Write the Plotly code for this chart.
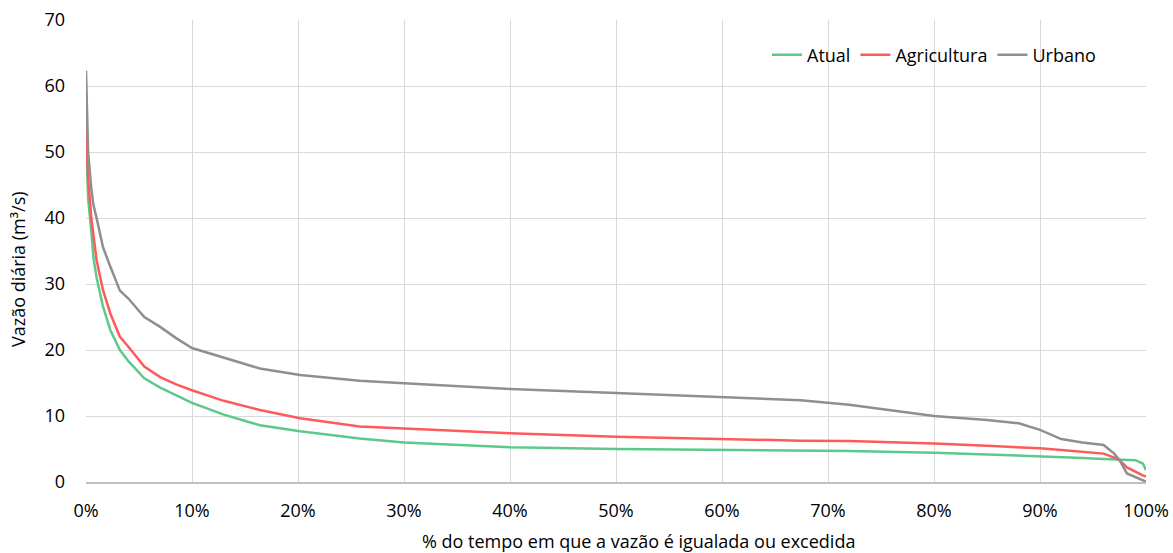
import plotly.graph_objects as go

x_pct = [0, 0.2, 0.5, 0.7, 1.0, 1.6, 2.3, 3.2, 4.0, 5.5, 7, 8.5, 10, 13, 16.4, 20.2, 25.8, 30, 40, 50, 60,
         67.4, 72, 80, 85, 88, 90, 92, 94, 96, 97, 97.5, 98.2, 99, 99.7, 100]

atual = [52, 43, 38, 34, 31, 26.6, 23, 20, 18.3, 15.7, 14.3, 13.1, 12, 10.2, 8.6, 7.7, 6.6, 6.0, 5.25, 5.0, 4.85,
         4.7, 4.7, 4.45, 4.2, 4.0, 3.85, 3.75, 3.65, 3.5, 3.45, 3.4, 3.35, 3.3, 2.8, 1.8]

agricultura = [55.3, 46, 40, 37.7, 33.6, 29.1, 25.5, 22, 20.5, 17.5, 15.9, 14.8, 13.9, 12.3, 10.9, 9.65, 8.4, 8.1, 7.37, 6.87, 6.5,
               6.26, 6.2, 5.85, 5.5, 5.3, 5.1, 4.85, 4.6, 4.3, 3.7, 3.3, 2.2, 1.5, 1.0, 0.8]

urbano = [62.3, 50, 44.5, 42, 40, 35.6, 32.6, 29, 27.8, 25, 23.5, 21.8, 20.3, 18.8, 17.2, 16.2, 15.35, 14.95, 14.1, 13.5, 12.9,
          12.4, 11.7, 10.0, 9.4, 8.9, 7.9, 6.5, 6.0, 5.6, 4.3, 3.3, 1.3, 0.7, 0.2, 0.05]

series_names = ["Atual", "Agricultura", "Urbano"]
series_values = [atual, agricultura, urbano]
colors = ["#5cc98a", "#ff5a5a", "#8f8f8f"]

x_ticks = list(range(0, 101, 10))
x_tick_labels = [f"{v}%" for v in x_ticks]
y_ticks = list(range(0, 71, 10))

x_title = "% do tempo em que a vazão é igualada ou excedida"
y_title = "Vazão diária (m³/s)"

fig = go.Figure()
for name, vals, col in zip(series_names, series_values, colors):
    fig.add_trace(go.Scatter(x=x_pct, y=vals, name=name, mode="lines",
                             line=dict(color=col, width=2.5), cliponaxis=False))

font_family = "Open Sans, Noto Sans, sans-serif"
fig.update_layout(
    width=1173, height=553,
    margin=dict(l=86, r=27, t=20, b=71),
    paper_bgcolor="white", plot_bgcolor="white",
    font=dict(family=font_family, size=18, color="#000000"),
    showlegend=True,
    legend=dict(orientation="h", x=0.80, xanchor="center", y=0.924, yanchor="middle",
                bgcolor="rgba(0,0,0,0)", font=dict(size=18)),
    xaxis=dict(range=[0, 100], tickmode="array", tickvals=x_ticks, ticktext=x_tick_labels,
               showgrid=True, gridcolor="#d9d9d9", gridwidth=1, automargin=False,
               zeroline=False, showline=True, linecolor="#bfbfbf", linewidth=1.5,
               ticks="", ticklabelstandoff=12),
    yaxis=dict(range=[0, 70], tickmode="array", tickvals=y_ticks,
               showgrid=True, gridcolor="#d9d9d9", gridwidth=1, automargin=False,
               zeroline=False, showline=False, ticks="", ticklabelstandoff=20),
    annotations=[
        dict(text=x_title, xref="paper", yref="paper", x=0.5208, y=-59 / 462,
             xanchor="center", yanchor="middle", showarrow=False, font=dict(size=18)),
        dict(text=y_title, xref="paper", yref="paper", x=-68 / 1060, y=0.461,
             xanchor="center", yanchor="middle", textangle=-90, showarrow=False, font=dict(size=18)),
    ],
)

fig.write_html("out.html", config={"displayModeBar": False},
               post_script="document.body.style.margin='0';document.body.style.overflow='hidden';")
